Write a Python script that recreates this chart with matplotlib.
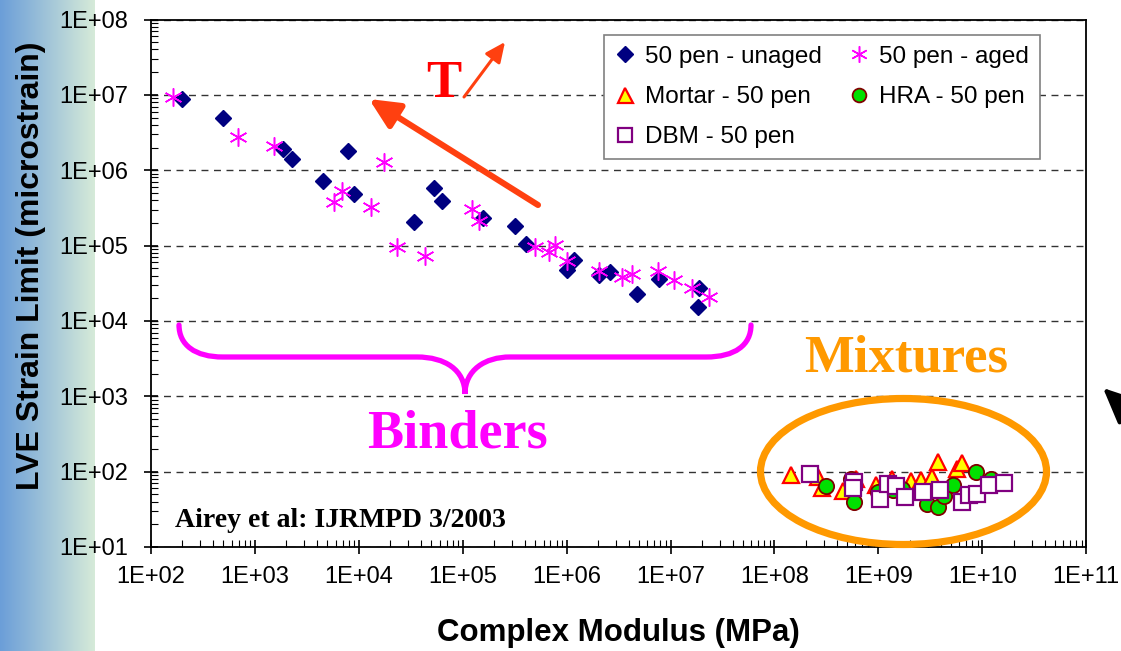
import numpy as np
import matplotlib.pyplot as plt
from matplotlib.patches import Ellipse, FancyArrowPatch, PathPatch
from matplotlib.path import Path
from matplotlib.ticker import LogLocator, NullFormatter, FuncFormatter

# ---------------- data ----------------
# 50 pen - unaged
unaged_x = [198, 492, 1884, 2270, 4570, 7850, 9030, 3.37e4, 5.32e4, 6.31e4,
            1.57e5, 3.2e5, 4.06e5, 1.01e6, 1.19e6, 2.07e6, 2.63e6, 4.75e6,
            7.8e6, 1.86e7, 1.82e7]
unaged_y = [8.7e6, 5.0e6, 1.91e6, 1.41e6, 7.1e5, 1.82e6, 4.8e5, 2.03e5, 5.85e5, 3.9e5,
            2.3e5, 1.83e5, 1.05e5, 4.8e4, 6.4e4, 4.1e4, 4.4e4, 2.26e4,
            3.57e4, 2.71e4, 1.54e4]

# 50 pen - aged
aged_x = [165, 695, 1535, 5840, 6870, 1.77e4, 1.31e4, 2.36e4, 4.38e4, 1.23e5,
          1.44e5, 4.99e5, 6.76e5, 7.7e5, 1.01e6, 2.07e6, 3.41e6, 4.25e6,
          7.5e6, 1.07e7, 1.61e7, 2.37e7]
aged_y = [9.4e6, 2.78e6, 2.09e6, 3.75e5, 5.3e5, 1.27e6, 3.24e5, 9.6e4, 7.3e4, 3.03e5,
          2.12e5, 9.6e4, 8.2e4, 1.01e5, 6.3e4, 4.6e4, 3.79e4, 4.19e4,
          4.64e4, 3.49e4, 2.7e4, 2.06e4]

# Mortar - 50 pen
mortar_x = [1.45e8, 2.64e8, 2.87e8, 4.56e8, 6.12e8, 9.5e8, 1.35e9, 2.06e9, 2.57e9,
            3.27e9, 3.75e9, 5.66e9, 6.31e9]
mortar_y = [90, 85, 60, 55, 79, 66, 79, 75, 77, 84, 132, 109, 129]

# HRA - 50 pen
hra_x = [3.13e8, 5.4e8, 5.86e8, 1.0e9, 1.38e9, 1.69e9, 2.94e9, 3.76e9, 4.25e9,
         5.2e9, 8.75e9, 1.21e10]
hra_y = [64, 79, 39, 54, 57, 58, 37, 34, 48, 66, 99, 79]

# DBM - 50 pen
dbm_x = [2.21e8, 5.77e8, 5.65e8, 1.04e9, 1.24e9, 1.48e9, 1.79e9, 2.69e9, 3.87e9,
         6.38e9, 7.47e9, 8.9e9, 1.16e10, 1.62e10]
dbm_y = [92, 73, 60, 43, 68, 64, 46, 54, 57, 39, 49, 50, 67, 70]

W, H = 1121, 651
plt.rcParams['font.family'] = ['Liberation Sans', 'DejaVu Sans']

fig = plt.figure(figsize=(W / 100, H / 100), dpi=100)

# blue-green gradient strip at the left edge of the slide
bg = fig.add_axes([0, 0, 95 / W, 1], zorder=-5)
c1 = np.array([0.42, 0.62, 0.85])
c2 = np.array([0.84, 0.92, 0.85])
t = np.linspace(0, 1, 200)[None, :, None]
bg.imshow(c1 + (c2 - c1) * t, aspect='auto', extent=[0, 1, 0, 1])
bg.axis('off')

ax = fig.add_axes([150.8 / W, 1 - 546.9 / H, 935.5 / W, 527.4 / H])
ax.set_facecolor('none')

ax.plot(unaged_x, unaged_y, ls='none', marker='D', ms=8.6, color='#000080',
        label='50 pen - unaged', zorder=3)
ax.plot(aged_x, aged_y, ls='none', marker=(6, 2, 0), ms=13, mew=1.1,
        color='#ff00ff', label='50 pen - aged', zorder=4)
ax.plot(mortar_x, mortar_y, ls='none', marker='^', ms=12, mfc='#ffff00',
        mec='#ff0000', mew=1.6, label='Mortar - 50 pen', zorder=3)
ax.plot(hra_x, hra_y, ls='none', marker='o', ms=11, mfc='#00e000',
        mec='#800000', mew=1.3, label='HRA - 50 pen', zorder=4)
ax.plot(dbm_x, dbm_y, ls='none', marker='s', ms=11.5, mfc='white',
        mec='#800080', mew=1.6, label='DBM - 50 pen', zorder=5)

ax.set_xscale('log')
ax.set_yscale('log')
ax.set_xlim(1e2, 1e11)
ax.set_ylim(1e1, 1e8)

fmt = FuncFormatter(lambda v, p: '1E+%02d' % int(round(np.log10(v))))
ax.xaxis.set_major_locator(LogLocator(base=10, numticks=20))
ax.yaxis.set_major_locator(LogLocator(base=10, numticks=20))
ax.xaxis.set_minor_locator(LogLocator(base=10, subs=np.arange(2, 10), numticks=20))
ax.yaxis.set_minor_locator(LogLocator(base=10, subs=np.arange(2, 10), numticks=20))
ax.xaxis.set_major_formatter(fmt)
ax.yaxis.set_major_formatter(fmt)
ax.xaxis.set_minor_formatter(NullFormatter())
ax.yaxis.set_minor_formatter(NullFormatter())
ax.tick_params(which='major', direction='inout', length=10, width=1.2, labelsize=17)
ax.tick_params(which='minor', direction='in', length=5, width=0.8)
ax.tick_params(axis='x', which='major', pad=9)
ax.tick_params(axis='y', which='major', pad=11)
for s in ax.spines.values():
    s.set_linewidth(1.3)

ax.yaxis.grid(True, which='major', color='#333333', ls=(0, (5, 4)), lw=1)

ax.set_xlabel('Complex Modulus (MPa)', fontsize=22.5, fontweight='bold')
ax.set_ylabel('LVE Strain Limit (microstrain)', fontsize=23, fontweight='bold')
ax.xaxis.set_label_coords(0.4994, -0.135)
ax.yaxis.set_label_coords(-0.112, 0.533)

handles = ax.get_legend_handles_labels()[0]
order = [0, 2, 4, 1, 3]
leg = ax.legend([handles[i] for i in order], [handles[i].get_label() for i in order],
                ncol=2, loc='upper left', bbox_to_anchor=(0.4844, 0.9706),
                borderaxespad=0, fontsize=17.5, frameon=True, fancybox=False,
                edgecolor='#808080', framealpha=1, handlelength=0.8,
                handletextpad=0.45, columnspacing=1.1, labelspacing=0.75,
                borderpad=0.45, numpoints=1, markerscale=0.9)
leg.get_frame().set_linewidth(1.2)


def fp(x, y):
    # slide pixel position -> figure fraction
    return (x / W, 1 - y / H)


# temperature arrows and label
arr_col = '#ff4010'
fig.patches.append(FancyArrowPatch(fp(538, 205), fp(369, 99), transform=fig.transFigure,
                                   arrowstyle='-|>,head_length=1.8,head_width=0.85',
                                   mutation_scale=10, lw=4.4, color=arr_col,
                                   shrinkA=0, shrinkB=0))
fig.patches.append(FancyArrowPatch(fp(464, 97), fp(505, 42), transform=fig.transFigure,
                                   arrowstyle='-|>,head_length=1.2,head_width=0.55',
                                   mutation_scale=10, lw=2.2, color=arr_col,
                                   shrinkA=0, shrinkB=0))
fig.text(*fp(444, 97), 'T', fontsize=38, fontweight='bold', color='#ff0000',
         family='Liberation Serif', ha='center', va='baseline')

# brace over the binders
verts = [(179, 325), (179, 345), (195, 357), (223, 357),
         (417, 357),
         (445, 357), (465, 370), (465, 394),
         (465, 370), (485, 357), (510, 357),
         (706, 357),
         (735, 357), (751, 345), (751, 325)]
codes = [Path.MOVETO, Path.CURVE4, Path.CURVE4, Path.CURVE4,
         Path.LINETO,
         Path.CURVE4, Path.CURVE4, Path.CURVE4,
         Path.CURVE4, Path.CURVE4, Path.CURVE4,
         Path.LINETO,
         Path.CURVE4, Path.CURVE4, Path.CURVE4]
brace = Path([fp(x, y) for x, y in verts], codes)
fig.patches.append(PathPatch(brace, transform=fig.transFigure, fill=False,
                             edgecolor='#ff00ff', lw=3.8, capstyle='round'))
fig.text(*fp(457, 447), 'Binders', fontsize=39, fontweight='bold', color='#ff00ff',
         family='Liberation Serif', ha='center', va='baseline')

# ellipse round the mixtures
fig.patches.append(Ellipse(fp(903.5, 471.5), 286 / W, 146 / H, transform=fig.transFigure,
                           fill=False, edgecolor='#ff9900', lw=5.2, zorder=2))
fig.text(*fp(906, 371), 'Mixtures', fontsize=38, fontweight='bold', color='#ff9900',
         family='Liberation Serif', ha='center', va='baseline')

fig.text(*fp(175, 527), 'Airey et al: IJRMPD 3/2003', fontsize=20, fontweight='bold',
         color='black', family='Liberation Serif', ha='left', va='baseline')

# cut-off pointer at the right edge
fig.patches.append(FancyArrowPatch(fp(1170, 450), fp(1103, 388), transform=fig.transFigure,
                                   arrowstyle='-|>,head_length=2.2,head_width=1.0',
                                   mutation_scale=10, lw=3, color='black',
                                   shrinkA=0, shrinkB=0))

fig.savefig('out.png', dpi=100)
